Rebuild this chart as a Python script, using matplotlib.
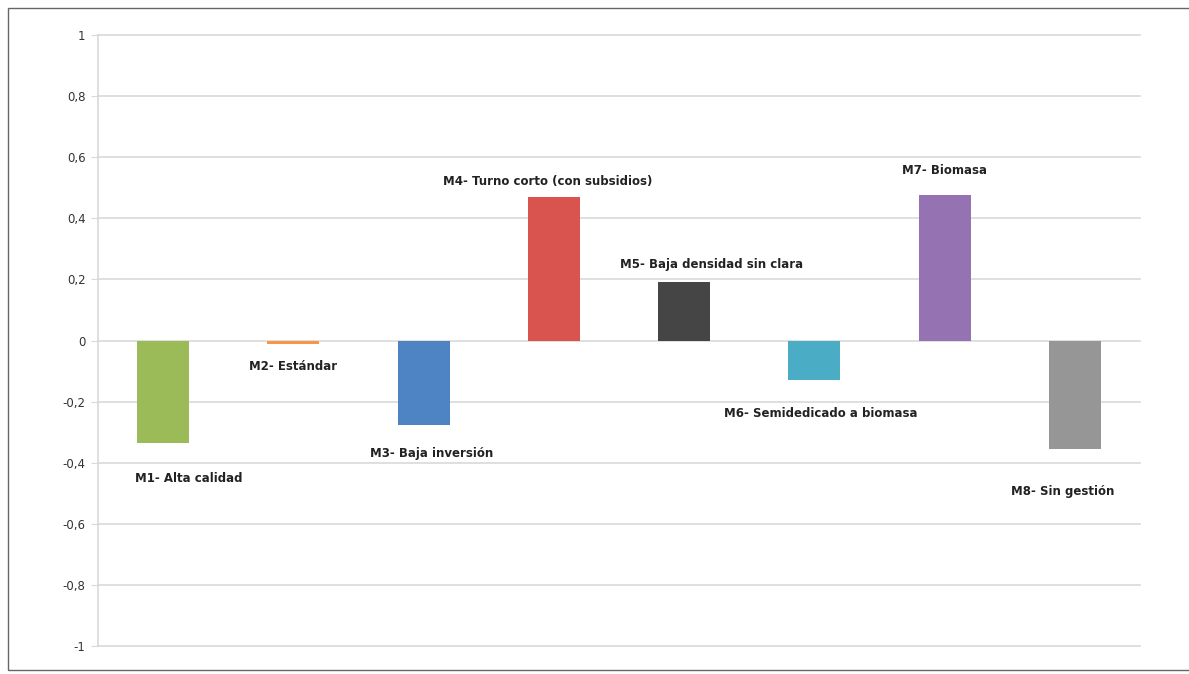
import matplotlib.pyplot as plt
from matplotlib.patches import Rectangle
from matplotlib.ticker import FixedLocator

## data ##
categories = ["M1- Alta calidad", "M2- Estándar", "M3- Baja inversión",
              "M4- Turno corto (con subsidios)", "M5- Baja densidad sin clara",
              "M6- Semidedicado a biomasa", "M7- Biomasa", "M8- Sin gestión"]
values = [-0.335, -0.01, -0.275, 0.47, 0.19, -0.13, 0.475, -0.355]
colors = ["#9BBB59", "#F79646", "#4F84C4", "#D9534F", "#454545",
          "#4BACC6", "#9573B3", "#969696"]
yticks = [1, 0.8, 0.6, 0.4, 0.2, 0, -0.2, -0.4, -0.6, -0.8, -1]
ytick_labels = ["1", "0,8", "0,6", "0,4", "0,2", "0", "-0,2", "-0,4", "-0,6", "-0,8", "-1"]

fig = plt.figure(figsize=(11.89, 6.74), dpi=100)
ax = fig.add_axes([0.0824, 0.0415, 0.8764, 0.9065])

x = list(range(len(categories)))
ax.bar(x, values, width=0.4, color=colors, zorder=3)

# label placement (dx in category units, dy in data units from bar end)
lab_dx = [0.2, 0.0, 0.06, -0.05, 0.21, 0.05, 0.0, -0.09]
lab_dy = [-0.115, -0.075, -0.095, 0.05, 0.06, -0.11, 0.08, -0.14]
for i, (name, v) in enumerate(zip(categories, values)):
    ax.text(i + lab_dx[i], v + lab_dy[i], name, ha="center", va="center",
            fontsize=8.5, fontweight="bold", color="#222222", zorder=4)

ax.set_xlim(-0.5, len(categories) - 0.5)
ax.set_ylim(-1, 1)
ax.yaxis.set_major_locator(FixedLocator(yticks))
ax.set_yticklabels(ytick_labels, fontsize=8.5, color="#333333")
ax.set_xticks([])
ax.grid(axis="y", color="#D9D9D9", linewidth=1.2, zorder=0)
for gl in ax.get_ygridlines():
    gl.set_clip_on(False)
ax.tick_params(axis="y", length=5, color="#D9D9D9", pad=4)
for s in ["top", "right", "bottom"]:
    ax.spines[s].set_visible(False)
ax.spines["left"].set_color("#D9D9D9")
ax.spines["left"].set_linewidth(1.2)

# outer frame
fig.patches.append(Rectangle((8 / 1189, 4 / 674), 1.0, 662 / 674, transform=fig.transFigure,
                             fill=False, edgecolor="#666666", linewidth=1.0))

plt.savefig("out.png", dpi=100)
